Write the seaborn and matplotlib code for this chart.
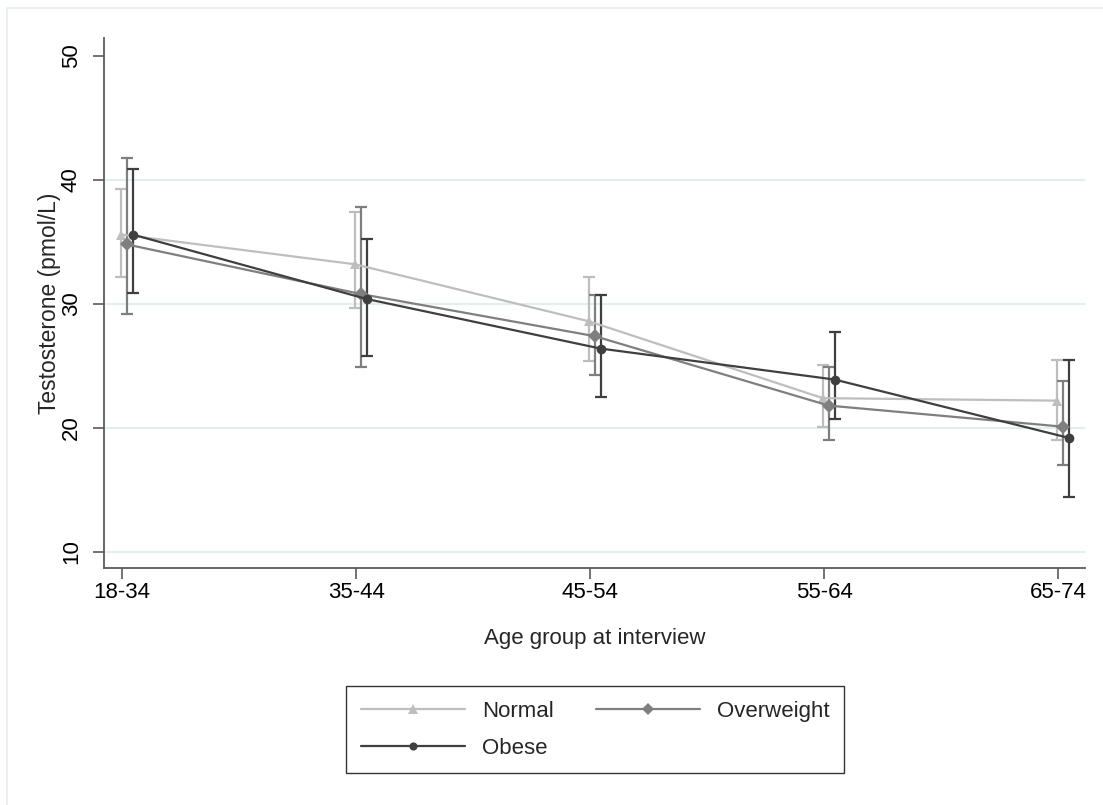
import numpy as np
import pandas as pd
import seaborn as sns
import matplotlib.pyplot as plt
from matplotlib.lines import Line2D

# Data

age_groups = ["18-34", "35-44", "45-54", "55-64", "65-74"]
bmi_groups = ["Normal", "Overweight", "Obese"]

normal_mean = [35.6, 33.2, 28.6, 22.4, 22.2]
normal_lo = [32.2, 29.7, 25.4, 20.1, 19.0]
normal_hi = [39.3, 37.4, 32.2, 25.1, 25.5]

overweight_mean = [34.8, 30.8, 27.4, 21.8, 20.1]
overweight_lo = [29.2, 24.9, 24.3, 19.0, 17.0]
overweight_hi = [41.8, 37.8, 30.7, 24.9, 23.8]

obese_mean = [35.6, 30.4, 26.4, 23.9, 19.2]
obese_lo = [30.9, 25.8, 22.5, 20.7, 14.4]
obese_hi = [40.9, 35.2, 30.7, 27.7, 25.5]

# Style

colors = {"Normal": "#bebebe", "Overweight": "#7f7f7f", "Obese": "#3f3f3f"}
markers = {"Normal": "^", "Overweight": "D", "Obese": "o"}
marker_sizes = {"Normal": 7.5, "Overweight": 6.5, "Obese": 6.5}
offsets = {"Normal": -0.005, "Overweight": 0.02, "Obese": 0.045}

sns.set_theme(style="white")
plt.rcParams["font.family"] = ["Liberation Sans", "DejaVu Sans"]

# Long table

series = {
    "Normal": (normal_mean, normal_lo, normal_hi),
    "Overweight": (overweight_mean, overweight_lo, overweight_hi),
    "Obese": (obese_mean, obese_lo, obese_hi),
}
rows = []
for g in bmi_groups:
    m, lo, hi = series[g]
    for i, age in enumerate(age_groups):
        rows.append({"group": g, "age": age, "pos": i + offsets[g],
                     "mean": m[i], "lo": lo[i], "hi": hi[i]})
df = pd.DataFrame(rows)

fig = plt.figure(figsize=(11.03, 8.05), dpi=100)
ax = fig.add_axes([0.0943, 0.2944, 0.8894, 0.6584])

# Error bars

for g in bmi_groups:
    d = df[df["group"] == g]
    ax.errorbar(d["pos"], d["mean"],
                yerr=[d["mean"] - d["lo"], d["hi"] - d["mean"]],
                fmt="none", ecolor=colors[g], elinewidth=1.6,
                capsize=4.3, capthick=1.6, zorder=2)

# Lines + markers

sns.lineplot(data=df, x="pos", y="mean", hue="group", style="group",
             hue_order=bmi_groups, style_order=bmi_groups,
             palette=colors, markers=markers, dashes=False,
             linewidth=1.6, markersize=7, markeredgewidth=0,
             sort=True, ax=ax, zorder=3)

for line in ax.get_lines():
    lab = line.get_label()
    if lab in marker_sizes:
        line.set_markersize(marker_sizes[lab])

# Axes

ax.set_xlim(-0.077, 4.115)
ax.set_ylim(8.7, 51.45)
ax.set_xticks(range(len(age_groups)))
ax.set_xticklabels(age_groups)
ax.set_yticks([10, 20, 30, 40, 50])
ax.set_yticklabels(["10", "20", "30", "40", "50"], rotation=90, va="center")
for yv in [10, 20, 30, 40]:
    ax.axhline(yv, color="#e3eef0", linewidth=1.5, zorder=0)

for s in ["top", "right"]:
    ax.spines[s].set_visible(False)
for s in ["left", "bottom"]:
    ax.spines[s].set_color("#5a5a5a")
    ax.spines[s].set_linewidth(1.3)

ax.tick_params(axis="both", which="major", length=8, width=1.2,
               color="#5a5a5a", labelsize=16, labelcolor="black",
               left=True, bottom=True)
ax.tick_params(axis="y", pad=8)
ax.tick_params(axis="x", pad=2)

ax.set_xlabel("Age group at interview", fontsize=16, labelpad=18)
ax.set_ylabel("Testosterone (pmol/L)", fontsize=16.5, labelpad=0)

# Legend: row 1 Normal, Overweight; row 2 Obese (matplotlib fills by column)

handles, labels = ax.get_legend_handles_labels()
ax.get_legend().remove()
lookup = dict(zip(labels, handles))
leg_order = ["Normal", "Obese", "Overweight"]
for l in leg_order:
    lookup[l].set_markersize(marker_sizes[l] * 0.9)
leg = fig.legend([lookup[l] for l in leg_order], leg_order,
                 loc="center", bbox_to_anchor=(0.5395, 0.0935), ncol=2,
                 fontsize=16, frameon=True, fancybox=False,
                 edgecolor="black", handlelength=4.7, handletextpad=0.75,
                 columnspacing=1.9, labelspacing=0.72, borderpad=0.65)
leg.get_frame().set_linewidth(1.0)

# faint graph-region outline (only top and left edges are inside the picture)
fig.add_artist(Line2D([0.0065, 0.0065], [0.0, 0.990],
                      transform=fig.transFigure, color="#e6eef0", linewidth=1.2))
fig.add_artist(Line2D([0.0065, 1.0], [0.990, 0.990],
                      transform=fig.transFigure, color="#e6eef0", linewidth=1.2))

fig.savefig("out.png", dpi=100, facecolor="white")
